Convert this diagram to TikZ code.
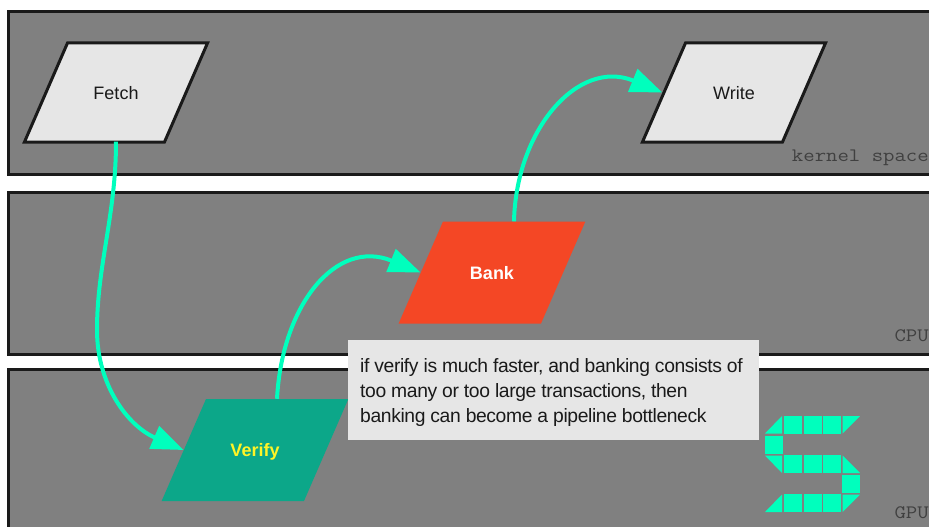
\documentclass[tikz,border=0pt]{standalone}
\usepackage{fontspec}
\setmainfont{Liberation Sans}
\usetikzlibrary{shapes.geometric,arrows.meta,positioning}
\definecolor{panelgray}{HTML}{808080}
\definecolor{linedark}{HTML}{1A1A1A}
\definecolor{lightbox}{HTML}{E6E6E6}
\definecolor{mint}{HTML}{00FFBD}
\definecolor{tealfill}{HTML}{0CA789}
\definecolor{redfill}{HTML}{F44725}
\newcommand{\stagelabel}[1]{\raisebox{-6.5pt}{#1}}
\tikzset{
  panel/.style={draw=linedark,fill=panelgray,line width=3pt},
  stage/.style={shape=trapezium,trapezium left angle=66.5,trapezium right angle=113.5,
    inner sep=0pt,align=center,font=\fontsize{18}{20}\selectfont},
  hoststage/.style={stage,draw=linedark,fill=lightbox,line width=3pt,text=linedark,
    text width=97pt,text height=49.5pt,text depth=49.5pt},
  gpustage/.style={stage,font=\fontsize{18}{20}\selectfont\bfseries,
    text width=98pt,text height=51pt,text depth=51pt},
  flow/.style={draw=mint,line width=4pt,-{Triangle[length=32pt,width=24pt]}},
  tag/.style={anchor=base east,inner sep=0pt,text=black!75,xscale=1.165,font=\fontsize{19}{20}\ttfamily},
  pixel/.style={fill=mint}
}
\begin{document}
\begin{tikzpicture}[x=1pt,y=-1pt]
    \clip (0,0) rectangle (929,527);
    \fill[white] (0,0) rectangle (929,527);
    % layers
    \draw[panel] (8,12) rectangle (945,174);
    \draw[panel] (8,192) rectangle (945,354);
    \draw[panel] (8,369) rectangle (945,545);
    \node[tag] (kernel) at (929,161) {kernel space};
    \node[tag] (cpu) at (929,341) {CPU};
    \node[tag] (gpu) at (929,518) {GPU};
    % stages
    \node[hoststage] (fetch) at (116,92.5) {\stagelabel{Fetch}};
    \node[hoststage] (write) at (734,92.5) {\stagelabel{Write}};
    \node[gpustage,fill=redfill,text=white] (bank) at (492,272.5) {\stagelabel{Bank}};
    \node[gpustage,fill=tealfill,text=yellow!85!white] (verify) at (255,450) {\stagelabel{Verify}};
    % flows
    \draw[flow] ([yshift=2pt]fetch.south) .. controls (116,215) and (97,265) .. (97,330)
        .. controls (97,385) and (128,426) .. (verify.west);
    \draw[flow] ([xshift=22pt]verify.north) .. controls (282,305) and (336,238) .. (bank.west);
    \draw[flow] ([xshift=22pt]bank.north) .. controls (516,130) and (578,58) .. (write.west);
    % note
    \node[fill=lightbox,minimum width=411pt,minimum height=100pt,inner sep=0pt,anchor=north west] (note) at (348,340) {};
    \node[anchor=west,inner sep=0pt,align=left,text=linedark,font=\fontsize{19.3}{25}\selectfont] (notetext) at (360,392.5)
        {\addfontfeature{LetterSpace=-2}if verify is much faster, and banking consists of\\
         \addfontfeature{LetterSpace=-2}too many or too large transactions, then\\
         \addfontfeature{LetterSpace=-2}banking can become a pipeline bottleneck};
    % logo
    \foreach \px/\py in {784/416,804/416,823/416,765/436,784/455,804/455,823/455,842/475,784/494,804/494,823/494}{
      \fill[pixel] (\px,\py) rectangle ++(17.5,17.5);
    }
    \fill[pixel] (782,416) -- (782,433.5) -- (765,433.5) -- cycle;
    \fill[pixel] (842.5,416) -- (860,416) -- (842.5,433.5) -- cycle;
    \fill[pixel] (765,455.5) -- (782,455.5) -- (782,473) -- cycle;
    \fill[pixel] (842.5,455.5) -- (860,473) -- (842.5,473) -- cycle;
    \fill[pixel] (782,494.5) -- (782,512) -- (765,512) -- cycle;
    \fill[pixel] (842.5,494.5) -- (860,494.5) -- (842.5,512) -- cycle;
\end{tikzpicture}
\end{document}
